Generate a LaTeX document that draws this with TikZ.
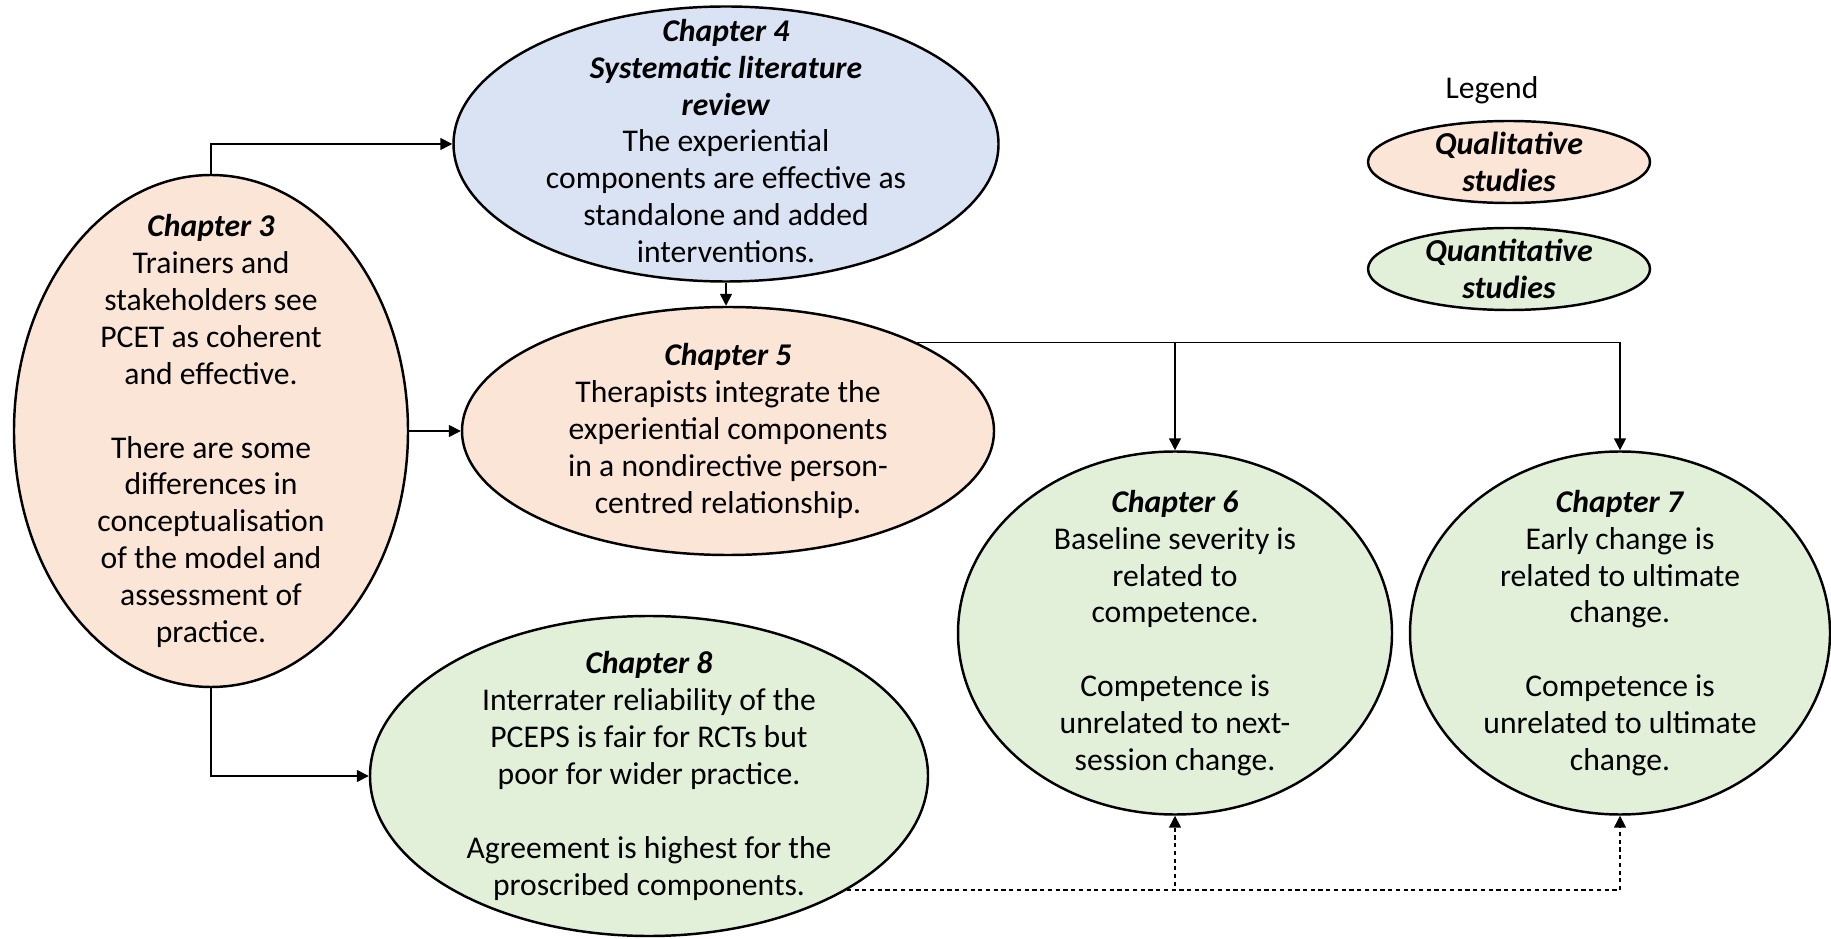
\documentclass[tikz,border=0pt]{standalone}
\usepackage{fontspec}
\setmainfont{Carlito}
\usepackage{xcolor}
\usetikzlibrary{shapes.geometric,arrows.meta}

\definecolor{qualfill}{HTML}{FBE5D6}
\definecolor{quantfill}{HTML}{E2F0D9}
\definecolor{reviewfill}{HTML}{DAE3F3}

\begin{document}
\begin{tikzpicture}[
            oval/.style={shape=ellipse, draw, line width=0.7pt, inner sep=0pt},
            qual/.style={oval, fill=qualfill},
            quant/.style={oval, fill=quantfill},
            review/.style={oval, fill=reviewfill},
            txt/.style={align=center, inner sep=0pt, font=\fontsize{9}{10.5}\selectfont},
            keytxt/.style={txt, font=\fontsize{9.1}{10.5}\selectfont\bfseries\itshape},
            conn/.style={line width=0.45pt, -{Triangle[length=1.2mm,width=1.2mm]}}]
        \useasboundingbox (0,0) rectangle (18.31,9.38);

        % the chapters
        \node[qual, minimum width=3.94cm, minimum height=5.12cm] (ch3) at (2.11,5.07) {};
        \node[review, minimum width=5.45cm, minimum height=2.75cm] (ch4) at (7.26,7.94) {};
        \node[qual, minimum width=5.32cm, minimum height=2.48cm] (ch5) at (7.28,5.07) {};
        \node[quant, minimum width=4.34cm, minimum height=3.63cm] (ch6) at (11.75,3.05) {};
        \node[quant, minimum width=4.20cm, minimum height=3.63cm] (ch7) at (16.20,3.05) {};
        \node[quant, minimum width=5.58cm, minimum height=3.20cm] (ch8) at (6.49,1.62) {};

        \node[txt] (ch3txt) at (ch3) {\textbf{\textit{Chapter 3}}\\Trainers and\\stakeholders see\\PCET as coherent\\and effective.\\[\baselineskip]There are some\\differences in\\conceptualisation\\of the model and\\assessment of\\practice.};
        \node[txt] (ch4txt) at ([yshift=0.03cm]ch4) {\textbf{\textit{Chapter 4}}\\\textbf{\textit{Systematic literature}}\\\textbf{\textit{review}}\\The experiential\\components are effective as\\standalone and added\\interventions.};
        \node[txt] (ch5txt) at (ch5) {\textbf{\textit{Chapter 5}}\\Therapists integrate the\\experiential components\\in a nondirective person-\\centred relationship.};
        \node[txt] (ch6txt) at (ch6) {\textbf{\textit{Chapter 6}}\\Baseline severity is\\related to\\competence.\\[\baselineskip]Competence is\\unrelated to next-\\session change.};
        \node[txt] (ch7txt) at (ch7) {\textbf{\textit{Chapter 7}}\\Early change is\\related to ultimate\\change.\\[\baselineskip]Competence is\\unrelated to ultimate\\change.};
        \node[txt] (ch8txt) at (ch8) {\textbf{\textit{Chapter 8}}\\Interrater reliability of the\\PCEPS is fair for RCTs but\\poor for wider practice.\\[\baselineskip]Agreement is highest for the\\proscribed components.};

        % legend
        \node[txt] (legend) at (14.92,8.48) {Legend};
        \node[qual, minimum width=2.82cm, minimum height=0.82cm] (qualkey) at (15.09,7.76) {};
        \node[quant, minimum width=2.82cm, minimum height=0.82cm] (quantkey) at (15.09,6.69) {};
        \node[keytxt] (qualtxt) at (qualkey) {Qualitative\\studies};
        \node[keytxt] (quanttxt) at (quantkey) {Quantitative\\studies};

        % links between chapters
        \draw[conn] (ch3.north) |- (ch4.west);
        \draw[conn] (ch3.east) -- (ch5.west);
        \draw[conn] (ch3.south) |- (ch8.west);
        \draw[conn] (ch4.south) -- (ch4.south |- ch5.north);
        \draw[conn] (ch5.25) -| (ch6.north);
        \draw[conn] (ch5.25) -| (ch7.north);
        \draw[conn, dash pattern=on 1.2pt off 1pt] (ch8.-30) -| (ch6.south);
        \draw[conn, dash pattern=on 1.2pt off 1pt] (ch8.-30) -| (ch7.south);
    \end{tikzpicture}
\end{document}
